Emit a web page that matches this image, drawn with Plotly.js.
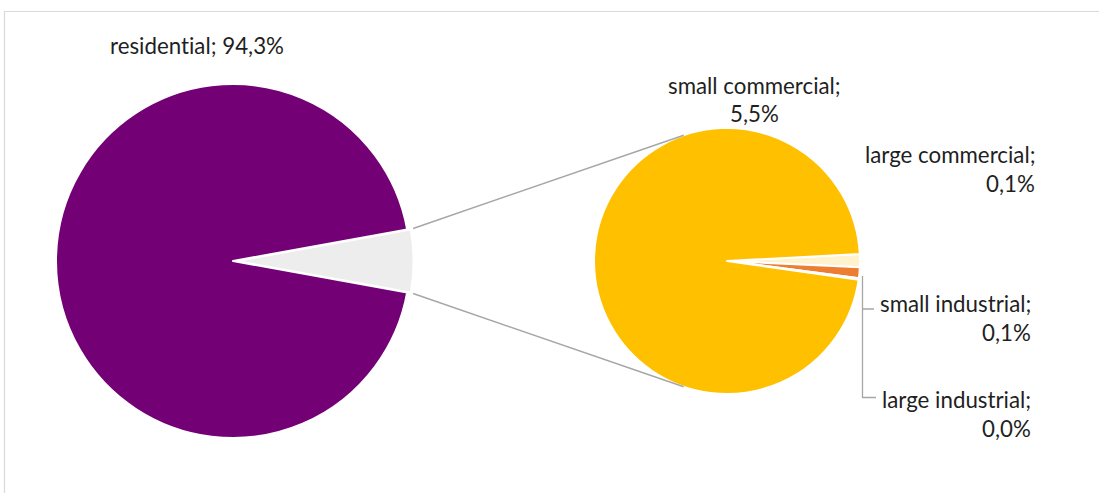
<!DOCTYPE html>
<html>
<head>
<meta charset="utf-8">
<script src="https://cdn.plot.ly/plotly-3.0.1.min.js"></script>
<style>html,body{margin:0;padding:0;background:#fff;}#chart{width:1099px;height:493px;}
svg text{font-variant-ligatures:none !important;font-feature-settings:"liga" 0, "clig" 0 !important;}</style>
</head>
<body>
<div id="chart"></div>
<script>
// ---- data ----
const mainLabels = ["other", "residential"];
const subLabels = ["large commercial", "small industrial", "large industrial", "small commercial"];
const subValues = [0.09, 0.075, 0.01, 5.52];
const residentialValue = 94.3;
const labelTexts = {
  "residential": ["residential; 94,3%"],
  "small commercial": ["small commercial;", "5,5%"],
  "large commercial": ["large commercial;", "0,1%"],
  "small industrial": ["small industrial;", "0,1%"],
  "large industrial": ["large industrial;", "0,0%"]
};

// ---- geometry / style ----
const W = 1099, H = 493;
const c1 = {x: 233, y: 261, r: 177}, pull1 = 0.02;
const c2 = {x: 727, y: 261, r: 133};
const subRotation = 87;
const otherValue = subValues.reduce((a, b) => a + b, 0);
const mainValues = [otherValue, residentialValue];
const total = otherValue + residentialValue;
const otherAngle = otherValue / total * 360;

function domainFor(c, pull) {
  const half = c.r * (1 + pull);
  return {x: [(c.x - half) / W, (c.x + half) / W], y: [(H - c.y - half) / H, (H - c.y + half) / H]};
}
const px = x => x / W, py = y => 1 - y / H;

const traces = [
  {type: 'pie', labels: mainLabels, values: mainValues, sort: false, direction: 'clockwise',
   rotation: 90 - otherAngle / 2, pull: [pull1, 0], textinfo: 'none', hoverinfo: 'label+percent',
   showlegend: false, domain: domainFor(c1, pull1),
   marker: {colors: ['#EDEDED', '#730075'], line: {color: '#ffffff', width: 2}}},
  {type: 'pie', labels: subLabels, values: subValues, sort: false, direction: 'clockwise',
   rotation: subRotation, textinfo: 'none', hoverinfo: 'label+percent', showlegend: false,
   domain: domainFor(c2, 0),
   marker: {colors: ['#FFF2CC', '#ED7D31', '#A5A5A5', '#FFC000'], line: {color: '#ffffff', width: 2}}}
];

// connector lines (tangents from the "other" slice corners to the second pie)
const a = otherAngle / 2 * Math.PI / 180;
const R = c1.r * (1 + pull1) + 2.5;
const shapes = [];
[1, -1].forEach(s => {
  const P = {x: c1.x + R * Math.cos(a), y: c1.y - s * R * Math.sin(a)};
  const vx = P.x - c2.x, vy = P.y - c2.y, d = Math.hypot(vx, vy);
  const beta = Math.acos(c2.r / d);
  const base = Math.atan2(vy, vx);
  const cands = [base + beta, base - beta].map(t => ({x: c2.x + c2.r * Math.cos(t), y: c2.y + c2.r * Math.sin(t)}));
  const T = s === 1 ? (cands[0].y < cands[1].y ? cands[0] : cands[1]) : (cands[0].y > cands[1].y ? cands[0] : cands[1]);
  shapes.push({type: 'line', xref: 'paper', yref: 'paper', x0: px(P.x), y0: py(P.y), x1: px(T.x), y1: py(T.y),
    line: {color: '#A6A6A6', width: 1.5}});
});
// leader lines for small/large industrial labels
shapes.push({type: 'path', xref: 'paper', yref: 'paper',
  path: `M ${px(874)} ${py(309)} L ${px(862.5)} ${py(309)} L ${px(862.5)} ${py(276)} M ${px(862.5)} ${py(309)} L ${px(862.5)} ${py(397.5)} L ${px(876)} ${py(397.5)}`,
  line: {color: '#A6A6A6', width: 1.3}});
// chart frame
shapes.push({type: 'rect', xref: 'paper', yref: 'paper', x0: px(4.5), x1: px(1110), y0: py(11.5), y1: py(510),
  line: {color: '#D9D9D9', width: 1.2}, fillcolor: 'rgba(0,0,0,0)'});

const font = {family: 'Lato, "Noto Sans", sans-serif', size: 22.3, color: '#1f1f1f'};
const labelPos = {
  "residential": {x: 197, ys: [45], anchor: 'center'},
  "small commercial": {x: 754, ys: [86, 113], anchor: 'center'},
  "large commercial": {x: 1037, ys: [154, 183], anchor: 'right'},
  "small industrial": {x: 1033, ys: [303, 332], anchor: 'right'},
  "large industrial": {x: 1033, ys: [399, 428], anchor: 'right'}
};
const annotations = [];
Object.keys(labelTexts).forEach(k => {
  const p = labelPos[k];
  labelTexts[k].forEach((t, i) => {
    annotations.push({xref: 'paper', yref: 'paper', x: px(p.x), y: py(p.ys[i]), text: t, showarrow: false,
      xanchor: p.anchor, yanchor: 'middle', font: font});
  });
});

Plotly.newPlot('chart', traces, {
  width: W, height: H, margin: {l: 0, r: 0, t: 0, b: 0},
  paper_bgcolor: '#ffffff', shapes: shapes, annotations: annotations
}, {displayModeBar: false, staticPlot: true});
</script>
</body>
</html>
